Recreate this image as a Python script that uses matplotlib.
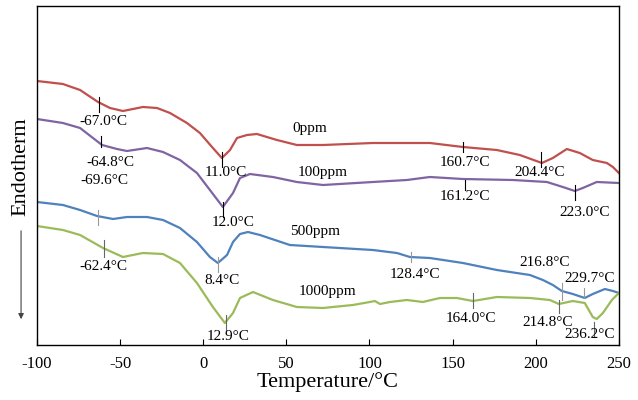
import matplotlib
matplotlib.use('Agg')
from matplotlib import pyplot as plt

plt.rcParams['font.family'] = ['Liberation Serif', 'DejaVu Serif']
plt.rcParams['axes.unicode_minus'] = False

# curves (temperature, relative heat flow)
t_0 = [-100, -84.4, -74.1, -63.3, -56.1, -48.3, -36.3, -27.8, -20, -9.8, -2, 5.8, 11.2, 16.1, 20.3, 26.3, 32.3, 44.3,
       56.3, 72, 102, 122.5, 136.3, 156.2, 176.6, 190.4, 203.7, 210.3, 218.7, 226.5, 234.3, 242.8, 246.4, 250]
h_0 = [264, 261, 255, 243, 237, 234, 238, 237, 232, 222, 212, 197, 187, 195, 207, 210, 211, 205,
       200, 200, 202, 202, 202, 198, 195, 190, 182, 187, 196, 192, 185, 182, 178, 172]

t_100 = [-100, -84.4, -74.1, -60.9, -51.9, -45.9, -33.8, -24.2, -14, -3.8, 4, 11.8, 17.9, 22.1, 28.1, 41.9, 56.3,
         72, 102, 122.5, 136.3, 156.2, 186.2, 206.7, 216.3, 223.5, 228.3, 236.7, 250]
h_100 = [226, 222, 217, 200, 196, 194, 197, 193, 185, 172, 155, 138, 152, 167, 171, 168, 163,
         160, 163, 165, 168, 166, 165, 163, 158, 154, 157, 163, 162]

t_500 = [-100, -84.4, -74.1, -63.9, -54.3, -45.9, -33.8, -24.2, -14, -3.8, 4, 8.8, 14.3, 17.9, 22.1, 26.9, 34.1,
         52.1, 72, 102, 116.5, 124.3, 136.3, 156.2, 176.6, 196.5, 204.3, 210.3, 215.7, 222.3, 229.5, 234.3,
         241.6, 246.4, 250]
h_500 = [143, 140, 135, 129, 126, 128, 128, 125, 117, 103, 88, 82, 90, 103, 111, 113, 110,
         100, 98, 95, 92, 88, 87, 82, 75, 70, 65, 60, 54, 51, 47, 51,
         56, 54, 52]

t_1000 = [-100, -84.4, -74.1, -60.3, -48.3, -36.3, -24.2, -14, -3.8, 5.8, 13, 17.9, 22.1, 29.9, 41.9, 56.3, 72,
          90, 100.2, 103.2, 106.3, 112.3, 122.5, 132.1, 142.3, 152.6, 162.2, 176.6, 196.5, 208.5, 213.9,
          222.3, 229.5, 234.3, 236.7, 240.4, 245.8, 250]
h_1000 = [119, 115, 110, 97, 88, 92, 91, 82, 62, 38, 22, 32, 47, 53, 45, 38, 37,
          40, 43, 44, 41, 43, 45, 43, 47, 47, 44, 48, 47, 45, 41,
          44, 42, 28, 26, 32, 45, 52]

# peak marks: (marker temperature, low, high, label, label temperature, label height)
marks_0 = [(-62.7, 233, 248, '-67.0\u00b0C', -60.3, 223), (11.3, 178, 193, '11.0\u00b0C', 13.7, 172),
           (156.2, 193, 203, '160.7\u00b0C', 157.4, 182), (203.1, 178, 193, '204.4\u00b0C', 202.5, 172)]
marks_100 = [(-61.5, 198, 209, '-64.8\u00b0C', -56.1, 182), (11.9, 128, 143, '12.0\u00b0C', 17.9, 122),
             (157.4, 155, 165, '161.2\u00b0C', 157.4, 148), (223.5, 145, 160, '223.0\u00b0C', 229.5, 132)]
marks_500 = [(-63.3, 120, 135, '-69.6\u00b0C', -59.7, 164), (8.8, 73, 88, '8.4\u00b0C', 11.3, 65),
             (124.9, 83, 93, '128.4\u00b0C', 127.3, 70), (215.7, 45, 62, '216.8\u00b0C', 205.5, 83),
             (228.9, 47, 57, '229.7\u00b0C', 232.6, 67)]
marks_1000 = [(-59.7, 88, 105, '-62.4\u00b0C', -60.3, 78), (13.7, 15, 30, '12.9\u00b0C', 14.9, 8),
              (162.2, 37, 52, '164.0\u00b0C', 161.0, 27), (213.9, 32, 45, '214.8\u00b0C', 207.3, 22),
              (235.0, 8, 23, '236.2\u00b0C', 232.6, 10)]

names = ['0ppm', '100ppm', '500ppm', '1000ppm']
name_pos = [(64, 216), (72, 172), (67, 113), (75, 53)]

fig = plt.figure(figsize=(6.38, 4.0), dpi=100)
ax = fig.add_axes([0.058, 0.1375, 0.912, 0.8475])

series = [(t_0, h_0, '#C0504D', marks_0, 'black'),
          (t_100, h_100, '#8064A2', marks_100, 'black'),
          (t_500, h_500, '#4F81BD', marks_500, '#999999'),
          (t_1000, h_1000, '#9BBB59', marks_1000, '#666666')]

for t, h, c, marks, mc in series:
    ax.plot(t, h, color=c, lw=1.6, solid_joinstyle='round')
    for mx, lo, hi, txt, lx, ly in marks:
        ax.plot([mx, mx], [lo, hi], color=mc, lw=0.8)
        ax.text(lx, ly, txt, ha='center', va='center', fontsize=11)

for n, (x, y) in zip(names, name_pos):
    ax.text(x, y, n, ha='center', va='center', fontsize=11)

ax.set_xlim(-100, 250)
ax.set_ylim(0, 339)
ax.set_xticks([-100, -50, 0, 50, 100, 150, 200, 250])
ax.tick_params(axis='x', direction='in', length=4, labelsize=12, pad=8)
ax.set_yticks([])
ax.set_xlabel('Temperature/\u00b0C', fontsize=16, labelpad=0)
for s in ax.spines.values():
    s.set_linewidth(1.0)

fig.text(0.033, 0.583, 'Endotherm', rotation=90, ha='center', va='center', fontsize=16)
ax.annotate('', xy=(0.033, 0.195), xytext=(0.033, 0.43), xycoords='figure fraction',
            arrowprops=dict(arrowstyle='-|>', color='#444444', lw=0.8, mutation_scale=8))

fig.savefig('out.png', dpi=100)
